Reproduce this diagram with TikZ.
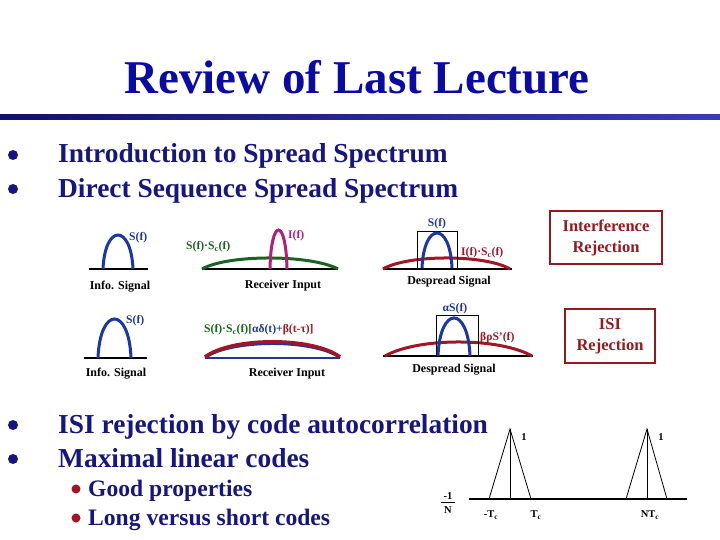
\documentclass[tikz,border=0pt]{standalone}
\usepackage{fontspec}
\setmainfont{Liberation Serif}
\usetikzlibrary{positioning}

\definecolor{titleblue}{RGB}{10,10,165}
\definecolor{textnavy}{RGB}{22,22,130}
\definecolor{archblue}{RGB}{25,55,165}
\definecolor{specgreen}{RGB}{25,100,30}
\definecolor{specmagenta}{RGB}{180,30,120}
\definecolor{specred}{RGB}{165,20,35}
\definecolor{boxred}{RGB}{150,25,30}

\tikzset{
  bodytext/.style={anchor=base west, inner sep=0pt, text=textnavy,
    font=\fontsize{27.4}{32}\selectfont\bfseries},
  subtext/.style={anchor=base west, inner sep=0pt, text=textnavy,
    font=\fontsize{23.6}{28}\selectfont\bfseries},
  caption/.style={inner sep=0pt, font=\fontsize{12}{14}\selectfont\bfseries},
  speclabel/.style={inner sep=0pt, font=\fontsize{11.6}{14}\selectfont\bfseries},
  plotlabel/.style={inner sep=0pt, font=\fontsize{10.5}{12}\selectfont\bfseries},
  archline/.style={line width=3pt},
  axisline/.style={line width=1.2pt},
  rejectbox/.style={draw=boxred, line width=2pt, text=boxred, align=center,
    inner sep=0pt, font=\fontsize{16.5}{21}\selectfont\bfseries},
}

\begin{document}
\begin{tikzpicture}[x=1pt, y=-1pt]
    \useasboundingbox (0,0) rectangle (720,540);
    % Title and rule
    \node[text=titleblue, font=\fontsize{47}{54}\selectfont\bfseries, anchor=base, inner sep=0pt]
        (title) at (357,94) {Review of Last Lecture};
    \shade[left color=textnavy!80!black, right color=titleblue!80!white]
        (0,115) rectangle (720,120);
    % Main bullets
    \foreach \yy/\txt [count=\i] in {163/Introduction to Spread Spectrum,
                                    197/Direct Sequence Spread Spectrum,
                                    433/ISI rejection by code autocorrelation,
                                    467/Maximal linear codes} {
        \fill[textnavy] (13,\yy-8) circle (5);
        \node[bodytext] (item\i) at (58,\yy) {\txt};
    }
    % Sub bullets
    \foreach \yy/\txt [count=\i] in {496/Good properties, 525/Long versus short codes} {
        \fill[specred] (76,\yy-7) circle (4.5);
        \node[subtext] (sub\i) at (88,\yy) {\txt};
    }

    % ---- Row 1: interference ----
    % Info signal
    \draw[axisline] (89,269) -- (148,269);
    \draw[archblue, archline] (103,269) .. controls (105,223.7) and (131,223.7) .. (133,269);
    \node[speclabel, text=archblue, anchor=west] (sf1) at (129,238) {S(f)};
    \node[caption] (info1) at (120,287) {Info. Signal};
    % Receiver input
    \draw[axisline] (202,269) -- (338,269);
    \draw[specgreen, archline] (202,269) .. controls (228,254.3) and (310,254.3) .. (338,269);
    \draw[specmagenta, archline] (270,269) .. controls (271,217) and (286,217) .. (287,269);
    \node[speclabel, text=specmagenta, anchor=west] (if1) at (288,236) {I(f)};
    \node[speclabel, text=specgreen, anchor=west] (ssc1) at (186,247) {S(f)·S\textsubscript{c}(f)};
    \node[caption] (recv1) at (283,286) {Receiver Input};
    % Despread signal
    \draw[axisline] (383,269) -- (512,269);
    \draw[specred, archline] (383,269) .. controls (408,254.3) and (485,254.3) .. (510,269);
    \draw[thick] (417,231) rectangle (457,268);
    \draw[archblue, archline] (422,268) .. controls (424,221.3) and (450,221.3) .. (452,268);
    \node[speclabel, text=archblue] (sf2) at (437,224) {S(f)};
    \node[speclabel, text=specred, anchor=west] (isc1) at (461,253) {I(f)·S\textsubscript{c}(f)};
    \node[caption] (desp1) at (449,282) {Despread Signal};
    \node[rejectbox, minimum width=112, minimum height=53] (irej) at (606,237.5)
        {Interference\\Rejection};

    % ---- Row 2: ISI ----
    % Info signal
    \draw[axisline] (84,358) -- (147,358);
    \draw[archblue, archline] (98,358) .. controls (100,306) and (129,306) .. (131,358);
    \node[speclabel, text=archblue, anchor=west] (sf3) at (126,321) {S(f)};
    \node[caption] (info2) at (116,374) {Info. Signal};
    % Receiver input
    \draw[archblue, line width=1.2pt] (205,358) -- (340,358);
    \draw[archblue, line width=2pt] (205,358) .. controls (232,339.3) and (313,339.3) .. (340,358);
    \draw[specred, line width=3.5pt] (205,357) .. controls (232,336.7) and (313,336.7) .. (340,357);
    \node[speclabel, anchor=west] (ssc2) at (204,330)
        {\textcolor{specgreen}{S(f)·S\textsubscript{c}(f)[}\textcolor{archblue}{αδ(t)+}\textcolor{specred}{β(t-τ)]}};
    \node[caption] (recv2) at (287,374) {Receiver Input};
    % Despread signal
    \draw[axisline] (383,356) -- (533,356);
    \draw[specred, archline] (385,356) .. controls (418,337.3) and (499,337.3) .. (532,356);
    \draw[thick] (436,315) rectangle (478,356);
    \draw[archblue, archline] (438,356) .. controls (440,305.3) and (468,305.3) .. (470,356);
    \node[speclabel, text=archblue] (asf) at (455,309) {αS(f)};
    \node[speclabel, text=specred, anchor=west] (bps) at (480,338) {βρS'(f)};
    \node[caption] (desp2) at (454,370) {Despread Signal};
    \node[rejectbox, minimum width=90, minimum height=54] (isirej) at (610,336)
        {ISI\\Rejection};

    % ---- Autocorrelation of maximal linear code ----
    \draw[line width=2pt] (469,499) -- (687,499);
    \draw[thick] (489,499) -- (510,429) -- (531,499);
    \draw[thin] (510,429) -- (510,499);
    \draw[thick] (626,499) -- (647,429) -- (667,499);
    \draw[thin] (647,429) -- (647,499);
    \node[plotlabel] (one1) at (524,437) {1};
    \node[plotlabel] (one2) at (661,437) {1};
    \node[plotlabel, anchor=base] (numer) at (448,499) {-1};
    \node[plotlabel, anchor=base] (denom) at (448,513) {N};
    \draw[line width=0.8pt] (441,502) -- (455,502);
    \node[plotlabel] (mtc) at (491,515) {-T\textsubscript{c}};
    \node[plotlabel] (ptc) at (536,515) {T\textsubscript{c}};
    \node[plotlabel] (ntc) at (650,515) {NT\textsubscript{c}};
\end{tikzpicture}
\end{document}
